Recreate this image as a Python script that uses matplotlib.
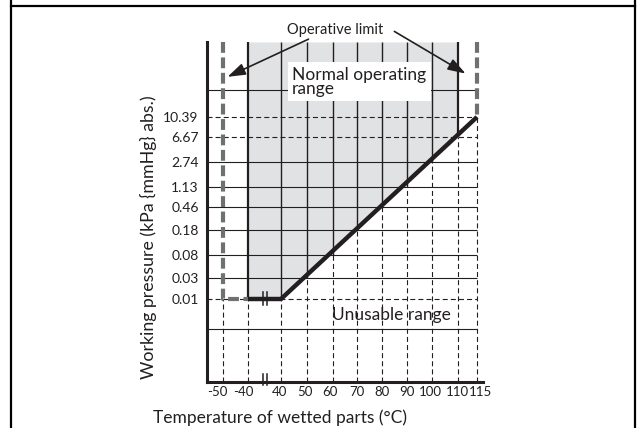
import numpy as np
import matplotlib
matplotlib.use("Agg")
import matplotlib.pyplot as plt
from matplotlib.lines import Line2D
from matplotlib.patches import Rectangle, FancyArrowPatch
from matplotlib.transforms import ScaledTranslation

plt.rcParams["font.family"] = ["Lato", "DejaVu Sans"]

# --- data -------------------------------------------------------------
temp_ticks = [-50, -40, 40, 50, 60, 70, 80, 90, 100, 110, 115]
temp_labels = ["-50", "-40", "40", "50", "60", "70", "80", "90", "100", "110", "115"]
pressure_ticks = [0.01, 0.03, 0.08, 0.18, 0.46, 1.13, 2.74, 6.67, 10.39]
pressure_labels = ["0.01", "0.03", "0.08", "0.18", "0.46", "1.13", "2.74", "6.67", "10.39"]

# limit of use (boundary between normal and unusable range)
limit_temp = [-40, 40, 115]
limit_pres = [0.01, 0.01, 10.39]
# pressure at which each grid column leaves the normal range
column_temp = [-40, 40, 50, 60, 70, 80, 90, 100, 110]
column_pres = [0.01, 0.01, 0.03, 0.08, 0.18, 0.46, 1.13, 2.74, 6.67]

limit_low, limit_high = -50, 115      # operative limit
normal_low, normal_high = -40, 110    # edges of normal operating range
dashed_rows = [0.01, 6.67, 10.39]

# --- layout: where the ticks sit, in pixels from the axes corner ------
x_pos = [16, 41, 74, 100, 126, 150, 175, 200, 225, 251, 270]
y_pos = [83, 104, 127, 152, 175, 195, 220, 245, 265]
AX_W, AX_H = 276, 340
W, H = 639, 428
ink = "#231f20"
limit_grey = "#6f7072"
shade = "#e1e2e4"


def interp_ext(v, xp, fp):
    v = np.asarray(v, dtype=float)
    xp = np.asarray(xp, dtype=float)
    fp = np.asarray(fp, dtype=float)
    out = np.interp(v, xp, fp)
    lo = (fp[1] - fp[0]) / (xp[1] - xp[0])
    hi = (fp[-1] - fp[-2]) / (xp[-1] - xp[-2])
    out = np.where(v < xp[0], fp[0] + (v - xp[0]) * lo, out)
    out = np.where(v > xp[-1], fp[-1] + (v - xp[-1]) * hi, out)
    return out


log_ticks = np.log10(pressure_ticks)


def fwd_x(v):
    return interp_ext(v, temp_ticks, x_pos)


def inv_x(p):
    return interp_ext(p, x_pos, temp_ticks)


def fwd_y(v):
    return interp_ext(np.log10(np.clip(v, 1e-12, None)), log_ticks, y_pos)


def inv_y(p):
    return 10 ** interp_ext(p, y_pos, log_ticks)


def px(x, y):
    # figure pixel (from top-left) -> figure fraction
    return x / W, 1 - y / H


fig = plt.figure(figsize=(W / 100, H / 100), dpi=100)
ax = fig.add_axes([207 / W, 1 - 382 / H, AX_W / W, AX_H / H])
ax.set_xscale("function", functions=(fwd_x, inv_x))
ax.set_yscale("function", functions=(fwd_y, inv_y))
x_left = float(inv_x(0))
y_bot, y_top = float(inv_y(0)), float(inv_y(AX_H))
ax.set_xlim(x_left, float(inv_x(AX_W)))
ax.set_ylim(y_bot, y_top)

# normal operating range
shade_t = [normal_low, limit_temp[1], normal_high]
shade_p = [column_pres[0], column_pres[1], column_pres[-1]]
ax.fill_between(shade_t, shade_p, y_top, color=shade, lw=0, zorder=0)

# horizontal rows
thin_dash = (0, (4.5, 2.8))
for p in pressure_ticks:
    ls = thin_dash if p in dashed_rows else "solid"
    ax.hlines(p, x_left, limit_high, colors=ink, lw=0.8, linestyles=ls, zorder=1)
for extra in (float(inv_y(53)), float(inv_y(292))):
    ax.hlines(extra, x_left, limit_high, colors=ink, lw=0.8, zorder=1)

# vertical columns: solid above the limit line, dashed below
for t, p in zip(column_temp, column_pres):
    lw = 1.6 if t in (normal_low, normal_high) else 1.0
    ax.vlines(t, p, y_top, colors=ink, lw=lw, zorder=2)
    ax.vlines(t, y_bot, p, colors=ink, lw=0.8, linestyles=thin_dash, zorder=1)
ax.vlines(limit_low, y_bot, limit_pres[0], colors=ink, lw=0.8, linestyles=thin_dash, zorder=1)
ax.vlines(limit_high, y_bot, limit_pres[-1], colors=ink, lw=0.8, linestyles=thin_dash, zorder=1)

# operative limits
ax.plot([limit_low, limit_low, normal_low], [y_top, limit_pres[0], limit_pres[0]],
        color=limit_grey, lw=3, dashes=(2.6, 1.1), solid_capstyle="butt", zorder=3)
ax.plot([limit_high, limit_high], [y_top, limit_pres[-1]],
        color=limit_grey, lw=3, dashes=(2.6, 1.1), zorder=3)

# limit curve
ax.plot(limit_temp, limit_pres, color=ink, lw=3.2, solid_capstyle="butt",
        solid_joinstyle="miter", zorder=5)

# axes styling
for side in ("top", "right"):
    ax.spines[side].set_visible(False)
for side in ("left", "bottom"):
    ax.spines[side].set_linewidth(2.2)
    ax.spines[side].set_color(ink)
ax.set_xticks(temp_ticks, temp_labels)
ax.set_yticks(pressure_ticks, pressure_labels)
ax.minorticks_off()
ax.tick_params(axis="y", length=0, pad=6, labelsize=10, labelcolor=ink)
ax.tick_params(axis="x", length=0, pad=3, labelsize=9.5, labelcolor=ink)
x_nudge = [-6, -5, -1, -2, -3, 0, 0, 0, -2, -1, 3]
for lab, dx in zip(ax.get_xticklabels(), x_nudge):
    lab.set_transform(lab.get_transform() + ScaledTranslation(dx / 100, 0, fig.dpi_scale_trans))

# axis break marks
for y0, y1 in ((374, 385), (292, 305)):
    for xb in (262.7, 266.7):
        fig.add_artist(Line2D([xb / W, xb / W], [1 - y0 / H, 1 - y1 / H], color=ink, lw=1.1, zorder=6))

# labels
fig.text(*px(280, 418), "Temperature of wetted parts (°C)", ha="center", va="center",
         fontsize=12.5, color=ink)
fig.text(*px(148, 237), "Working pressure (kPa {mmHg} abs.)", ha="center", va="center",
         rotation=90, fontsize=12.8, color=ink)

# annotations
fig.add_artist(Rectangle(px(288, 101), 143 / W, 39 / H, transform=fig.transFigure,
                         facecolor="white", edgecolor="none", zorder=4))
fig.text(*px(292, 82), "Normal operating\nrange", ha="left", va="center",
         fontsize=12.5, linespacing=0.9, color=ink, zorder=5)
fig.text(*px(391, 315), "Unusable range", ha="center", va="center", fontsize=12.5, color=ink)
fig.text(*px(335, 30), "Operative limit", ha="center", va="center", fontsize=10.5, color=ink)
for tail, tip in (((311, 38), (225, 78)), ((392, 30), (468, 75))):
    fig.add_artist(FancyArrowPatch(px(*tail), px(*tip), transform=fig.transFigure,
                                   arrowstyle="-|>,head_length=0.9,head_width=0.3",
                                   mutation_scale=12, lw=1.2, color=ink, zorder=6))

# outer frame
for xs, ys in (([11, 11], [0, H]), ([635, 635], [0, H]), ([11, 635], [6, 6])):
    fig.add_artist(Line2D([x / W for x in xs], [1 - y / H for y in ys], color="black", lw=1.6))

fig.savefig("out.png", dpi=100)
